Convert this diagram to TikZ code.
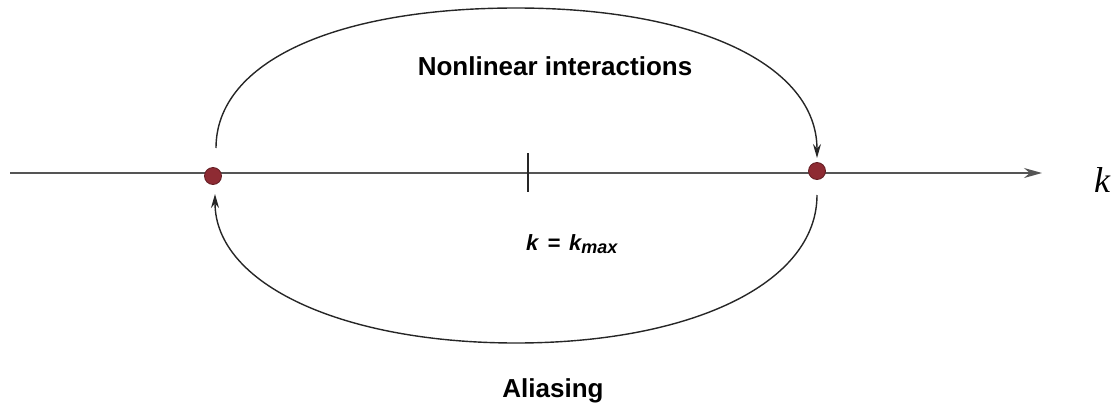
\documentclass[tikz,border=0pt]{standalone}
\usepackage{fontspec}
\setmainfont{Liberation Sans}
\newfontfamily\serifk{Liberation Serif}
\usetikzlibrary{arrows.meta}
\definecolor{dotred}{HTML}{8E2B33}
\definecolor{linegray}{HTML}{555555}
\begin{document}
\begin{tikzpicture}[x=1pt,y=-1pt,
  axisline/.style={draw=linegray,line width=1.6pt},
  arcline/.style={draw=black!85,line width=1.4pt,-{Stealth[length=14pt,width=8pt]}},
  dotmark/.style={circle,fill=dotred,draw=dotred!70!black,line width=0.8pt,minimum size=17pt,inner sep=0pt},
  lbl/.style={font=\bfseries\fontsize{26}{30}\selectfont,inner sep=0pt}]
\useasboundingbox (0,0) rectangle (1114,410);
\coordinate (axL) at (10,173);
\coordinate (axR) at (1042,173);
\draw[axisline,-{Stealth[length=18pt,width=10pt]}] (axL) -- (axR);
\coordinate (tickT) at (528,153);
\coordinate (tickB) at (528,192);
\draw[line width=1.6pt,black!85] (tickT) -- (tickB);
\node[dotmark] (dL) at (213,176) {};
\node[dotmark] (dR) at (817,171) {};
\coordinate (uS) at (216,148);
\coordinate (uE) at (817,158);
\draw[arcline] (uS) .. controls (216,62) and (335,8) .. (516,8) .. controls (697,8) and (817,65) .. (uE);
\coordinate (lS) at (817,195);
\coordinate (lE) at (215,194);
\draw[arcline] (lS) .. controls (817,284) and (690,343) .. (516,343) .. controls (342,343) and (215,284) .. (lE);
\node[lbl] (t1) at (555,66) {Nonlinear interactions};
\node[lbl] (t2) at (553,391) {Aliasing};
\node[inner sep=0pt,anchor=base,font=\bfseries\itshape\fontsize{22}{26}\selectfont] (t3) at (572,250) {k\hspace{9pt}=\hspace{9pt}k\textsubscript{\fontsize{18}{20}\selectfont max}};
\node[inner sep=0pt,anchor=base,font=\serifk\itshape\fontsize{36}{40}\selectfont] (t4) at (1102,192) {k};
\end{tikzpicture}
\end{document}
